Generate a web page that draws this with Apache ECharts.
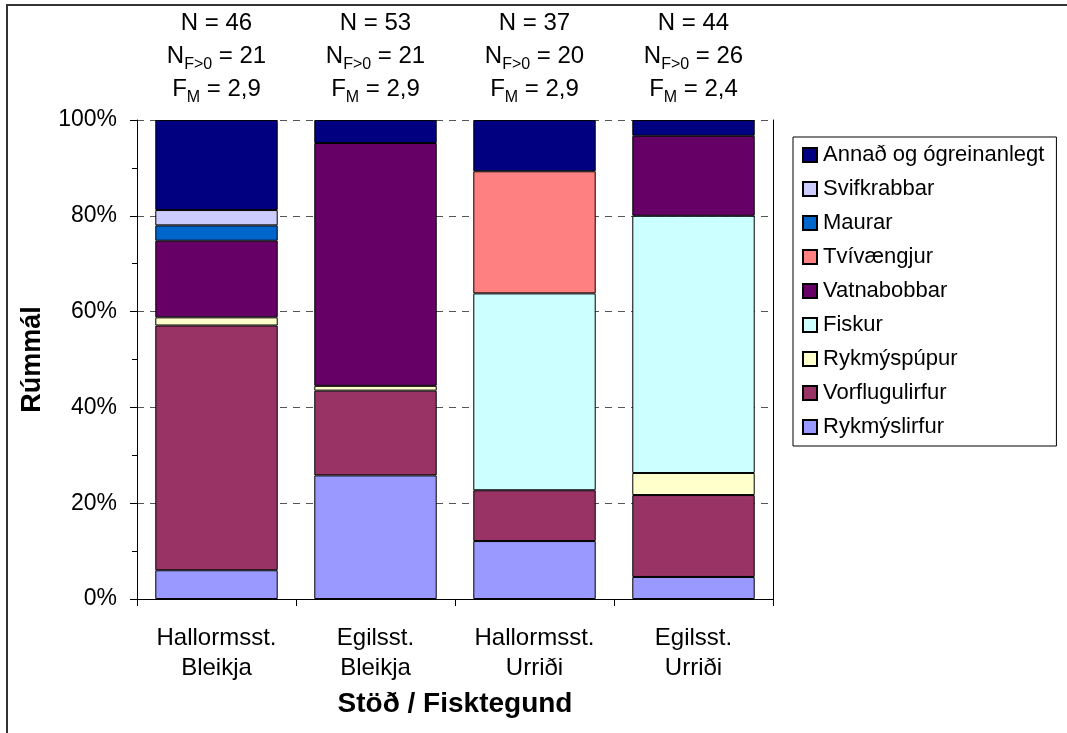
<!DOCTYPE html>
<html>
<head>
<meta charset="utf-8">
<script src="https://cdn.jsdelivr.net/npm/echarts@6/dist/echarts.min.js"></script>
<style>
  html, body { margin: 0; padding: 0; background: #fff; }
  #wrap { position: relative; width: 1067px; height: 733px; overflow: hidden; }
  #chart { position: absolute; left: 0; top: 0; width: 1067px; height: 733px; }
  #frame { position: absolute; left: 6px; top: 4px; width: 1200px; height: 900px;
           border-top: 2px solid #333; border-left: 2px solid #333; pointer-events: none; }
</style>
</head>
<body>
<div id="wrap">
  <div id="chart"></div>
  <div id="frame"></div>
</div>
<script>
// Stations and fish species (one bar per combination)
const stations = ['Hallormsst.', 'Egilsst.', 'Hallormsst.', 'Egilsst.'];
const fish = ['Bleikja', 'Bleikja', 'Urriði', 'Urriði'];

// Sample sizes and mean fullness shown above each bar
const nTotal = [46, 53, 37, 44];
const nFed = [21, 21, 20, 26];
const fMean = ['2,9', '2,9', '2,9', '2,4'];

// Diet composition by volume (%), stacked from bottom to top
const rykmyslirfur   = [6.0, 25.8, 12.1, 4.6];
const vorflugulirfur = [51.1, 17.7, 10.6, 17.1];
const rykmyspupur    = [1.7, 1.0, 0, 4.6];
const fiskur         = [0, 0, 41.1, 53.7];
const vatnabobbar    = [16.0, 50.7, 0, 16.7];
const tvivaengjur    = [0, 0, 25.5, 0];
const maurar         = [3.2, 0, 0, 0];
const svifkrabbar    = [3.2, 0, 0, 0];
const annad          = [18.8, 4.8, 10.7, 3.3];

const yTicks = [0, 20, 40, 60, 80, 100];

const FONT = '"Liberation Sans", Arial, Helvetica, sans-serif';

const seriesDefs = [
  { name: 'Rykmýslirfur',   data: rykmyslirfur,   color: '#9999FF' },
  { name: 'Vorflugulirfur', data: vorflugulirfur, color: '#993366' },
  { name: 'Rykmýspúpur',    data: rykmyspupur,    color: '#FFFFCC' },
  { name: 'Fiskur',         data: fiskur,         color: '#CCFFFF' },
  { name: 'Vatnabobbar',    data: vatnabobbar,    color: '#660066' },
  { name: 'Tvívængjur',     data: tvivaengjur,    color: '#FF8080' },
  { name: 'Maurar',         data: maurar,         color: '#0066CC' },
  { name: 'Svifkrabbar',    data: svifkrabbar,    color: '#CCCCFF' },
  { name: 'Annað og ógreinanlegt', data: annad,   color: '#000080' }
];

const categories = stations.map((s, i) => s + '\n' + fish[i]);

const chart = echarts.init(document.getElementById('chart'), null, { renderer: 'canvas' });

chart.setOption({
  backgroundColor: '#fff',
  animation: false,
  textStyle: { fontFamily: FONT, color: '#000' },
  grid: { left: 137, right: 294, top: 120, bottom: 134, containLabel: false },
  legend: {
    orient: 'vertical',
    left: 793,
    top: 137,
    padding: [7, 12, 8, 9],
    itemGap: 12,
    itemWidth: 14,
    itemHeight: 14,
    icon: 'rect',
    borderColor: '#000',
    borderWidth: 1,
    backgroundColor: '#fff',
    textStyle: { fontFamily: FONT, fontSize: 22, color: '#000', padding: [0, 0, 0, 1] },
    data: seriesDefs.map(d => d.name).reverse()
  },
  xAxis: [
    {
      type: 'category',
      data: categories,
      position: 'bottom',
      name: 'Stöð / Fisktegund',
      nameLocation: 'middle',
      nameGap: 91,
      nameTextStyle: { fontFamily: FONT, fontSize: 28, fontWeight: 'bold', color: '#000' },
      axisLine: { show: true, lineStyle: { color: '#000', width: 1 } },
      axisTick: { show: true, length: 7, alignWithLabel: false, lineStyle: { color: '#000' } },
      axisLabel: { fontFamily: FONT, fontSize: 24, lineHeight: 30, margin: 24, color: '#000', interval: 0 },
      splitLine: { show: false }
    },
    {
      type: 'category',
      data: categories,
      position: 'top',
      axisLine: { show: false },
      axisTick: { show: false },
      axisLabel: {
        interval: 0,
        margin: 14,
        formatter: (v, i) =>
          '{t|N = ' + nTotal[i] + '}\n' +
          '{t|N}{s|F>0}{t| = ' + nFed[i] + '}\n' +
          '{t|F}{s|M}{t| = ' + fMean[i] + '}',
        rich: {
          t: { fontFamily: FONT, fontSize: 24, lineHeight: 33, color: '#000' },
          s: { fontFamily: FONT, fontSize: 16, lineHeight: 21, verticalAlign: 'bottom', color: '#000' }
        }
      }
    }
  ],
  yAxis: [
    {
      type: 'value',
      min: 0,
      max: 100,
      interval: 20,
      name: 'Rúmmál',
      nameLocation: 'middle',
      nameRotate: 90,
      nameGap: 91,
      nameTextStyle: { fontFamily: FONT, fontSize: 27, fontWeight: 'bold', color: '#000' },
      axisLine: { show: true, lineStyle: { color: '#000', width: 1 } },
      axisTick: { show: true, length: 7, lineStyle: { color: '#000' } },
      minorTick: { show: true, splitNumber: 2, length: 5, lineStyle: { color: '#000' } },
      axisLabel: {
        fontFamily: FONT, fontSize: 23, color: '#000', margin: 20,
        customValues: yTicks,
        formatter: '{value}%'
      },
      splitLine: { show: true, lineStyle: { color: '#555', width: 1, type: [7, 6] } }
    },
    {
      type: 'value',
      min: 0,
      max: 100,
      interval: 20,
      position: 'right',
      axisLine: { show: true, lineStyle: { color: '#000', width: 1 } },
      axisTick: { show: false },
      axisLabel: { show: false },
      splitLine: { show: false }
    }
  ],
  series: seriesDefs.map(d => ({
    name: d.name,
    type: 'bar',
    stack: 'diet',
    xAxisIndex: 0,
    yAxisIndex: 0,
    barCategoryGap: '23%',
    data: d.data.map(v => (v === 0 ? null : v)),
    itemStyle: { color: d.color, borderColor: '#000', borderWidth: 1 },
    emphasis: { disabled: true }
  }))
});
</script>
</body>
</html>
